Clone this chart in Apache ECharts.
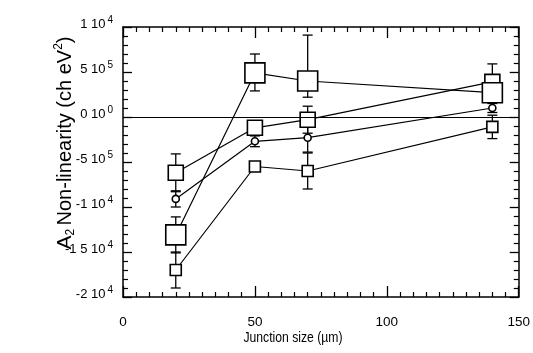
<!DOCTYPE html>
<html>
<head>
<meta charset="utf-8">
<script src="https://cdn.jsdelivr.net/npm/echarts@6/dist/echarts.min.js"></script>
<style>
  html, body { margin: 0; padding: 0; background: #fff; }
  #chart { width: 533px; height: 353px; }
</style>
</head>
<body>
<div id="chart"></div>
<script>
// Junction sizes (µm)
const junctionSizes = [20, 50, 70, 140];

// A2 non-linearity, in units of 1e-5 ch eV^-2, with error-bar limits
const largeSquare = [-13.1, 4.9, 4.0, 2.7];
const largeSquareLow = [-15.1, 2.9, 2.2, 1.9];
const largeSquareHigh = [-11.1, 7.0, 9.1, 3.5];

const mediumSquare = [-6.2, -1.2, -0.3, 3.9];
const mediumSquareLow = [-8.3, -1.8, -1.8, 1.9];
const mediumSquareHigh = [-4.1, -0.6, 1.2, 5.9];

const smallCircle = [-9.1, -2.7, -2.3, 1.0];
const smallCircleLow = [-10.0, -3.3, -3.9, 0.5];
const smallCircleHigh = [-8.2, -2.1, -0.7, 1.5];

const smallSquare = [-17.0, -5.5, -6.0, -1.1];
const smallSquareLow = [-19.0, -6.0, -8.0, -2.4];
const smallSquareHigh = [-15.0, -5.0, -4.0, 0.2];

// Axis ticks
const xTickValues = [0, 50, 100, 150];
const yTickValues = [10, 5, 0, -5, -10, -15, -20];
const yTickMantissas = ['1', '5', '0', '-5', '-1', '-1 5', '-2'];
const yTickExponents = ['4', '5', '0', '5', '4', '4', '4'];

const FONT = '"Liberation Sans", Arial, Helvetica, sans-serif';
const INK = '#000';

function errorBars(lows, highs) {
  return {
    type: 'custom',
    z: 1,
    silent: true,
    data: junctionSizes.map((x, i) => [x, lows[i], highs[i]]),
    encode: { x: 0, y: [1, 2] },
    renderItem: (params, api) => {
      const x = api.value(0);
      const lo = api.coord([x, api.value(1)]);
      const hi = api.coord([x, api.value(2)]);
      const hw = 5;
      const st = { stroke: INK, lineWidth: 1.3 };
      return {
        type: 'group',
        children: [
          { type: 'line', shape: { x1: lo[0], y1: lo[1], x2: hi[0], y2: hi[1] }, style: st },
          { type: 'line', shape: { x1: lo[0] - hw, y1: lo[1], x2: lo[0] + hw, y2: lo[1] }, style: st },
          { type: 'line', shape: { x1: hi[0] - hw, y1: hi[1], x2: hi[0] + hw, y2: hi[1] }, style: st }
        ]
      };
    }
  };
}

function markerLine(values, symbol, size) {
  return {
    type: 'line',
    z: 3,
    silent: true,
    data: junctionSizes.map((x, i) => [x, values[i]]),
    symbol: symbol,
    symbolSize: size,
    showAllSymbol: true,
    lineStyle: { color: INK, width: 1.2 },
    itemStyle: { color: '#fff', borderColor: INK, borderWidth: 1.6 },
    emphasis: { disabled: true }
  };
}

function yLabel(value) {
  const idx = yTickValues.findIndex(v => Math.abs(v - value) < 1e-6);
  if (idx < 0) return '';
  return '{m|' + yTickMantissas[idx] + ' 10}{e|' + yTickExponents[idx] + '}';
}

function baseX(position, showLabels) {
  return {
    type: 'value',
    position: position,
    min: 0,
    max: 150,
    interval: 50,
    axisLine: { show: true, onZero: false, lineStyle: { color: INK, width: 1.5 } },
    axisTick: { show: true, inside: true, length: 11, lineStyle: { color: INK, width: 1.3 } },
    minorTick: { show: true, splitNumber: 10, length: 5, lineStyle: { color: INK, width: 1.2 } },
    splitLine: { show: false },
    minorSplitLine: { show: false },
    axisLabel: {
      show: showLabels,
      margin: 18,
      fontFamily: FONT,
      fontSize: 13.5,
      color: INK,
      formatter: v => (xTickValues.includes(v) ? String(v) : '')
    }
  };
}

function baseY(position, showLabels) {
  return {
    type: 'value',
    position: position,
    min: -20,
    max: 10,
    interval: 5,
    axisLine: { show: true, onZero: false, lineStyle: { color: INK, width: 1.5 } },
    axisTick: { show: true, inside: true, length: 9, lineStyle: { color: INK, width: 1.3 } },
    minorTick: { show: true, splitNumber: 5, length: 5, lineStyle: { color: INK, width: 1.2 } },
    splitLine: { show: false },
    minorSplitLine: { show: false },
    axisLabel: {
      show: showLabels,
      margin: 10,
      padding: [0, 0, 5, 0],
      formatter: yLabel,
      rich: {
        m: { fontFamily: FONT, fontSize: 13, color: INK },
        e: { fontFamily: FONT, fontSize: 10, color: INK, padding: [0, 0, 9, 2] }
      }
    }
  };
}

const chart = echarts.init(document.getElementById('chart'), null, { renderer: 'canvas' });

const zeroLine = Object.assign(errorBars(smallSquareLow, smallSquareHigh), {
  markLine: {
    silent: true,
    symbol: 'none',
    label: { show: false },
    lineStyle: { color: INK, type: 'solid', width: 1 },
    data: [{ yAxis: 0 }]
  }
});

chart.setOption({
  animation: false,
  backgroundColor: '#fff',
  grid: { left: 123, right: 12, top: 27, bottom: 56, containLabel: false },
  xAxis: [baseX('bottom', true), baseX('top', false)],
  yAxis: [baseY('left', true), baseY('right', false)],
  graphic: [
    {
      type: 'text',
      x: 293,
      y: 338,
      scaleX: 0.87,
      style: {
        text: 'Junction size (µm)',
        fontFamily: FONT,
        fontSize: 14,
        fill: INK,
        align: 'center',
        verticalAlign: 'middle'
      }
    },
    {
      type: 'text',
      x: 65,
      y: 143,
      rotation: Math.PI / 2,
      style: {
        text: '{a|A}{s|2} {t|Non-linearity (ch eV}{p|2}{t|)}',
        align: 'center',
        verticalAlign: 'middle',
        rich: {
          a: { fontFamily: FONT, fontSize: 21, fill: INK },
          s: { fontFamily: FONT, fontSize: 12, fill: INK, padding: [12, 0, 0, 0] },
          t: { fontFamily: FONT, fontSize: 20, fill: INK },
          p: { fontFamily: FONT, fontSize: 12, fill: INK, padding: [0, 0, 12, 0] }
        }
      }
    }
  ],
  series: [
    zeroLine,
    errorBars(smallCircleLow, smallCircleHigh),
    errorBars(mediumSquareLow, mediumSquareHigh),
    errorBars(largeSquareLow, largeSquareHigh),
    markerLine(smallSquare, 'rect', 11),
    markerLine(smallCircle, 'circle', 7),
    markerLine(mediumSquare, 'rect', 15),
    markerLine(largeSquare, 'rect', 20)
  ]
});
</script>
</body>
</html>
